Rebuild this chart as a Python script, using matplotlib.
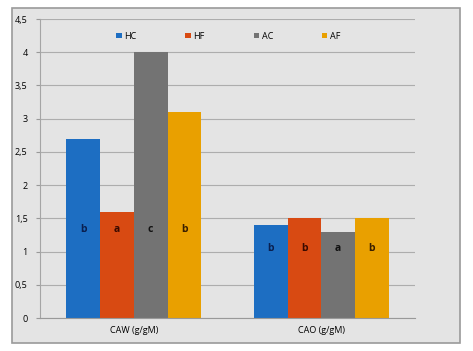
import matplotlib
matplotlib.use("Agg")
import matplotlib.pyplot as plt
import numpy as np
from matplotlib.patches import Rectangle

categories = ["CAW (g/gM)", "CAO (g/gM)"]
series = ["HC", "HF", "AC", "AF"]
HC = [2.7, 1.4]
HF = [1.6, 1.5]
AC = [4.0, 1.3]
AF = [3.1, 1.5]
letters_HC = ["b", "b"]
letters_HF = ["a", "b"]
letters_AC = ["c", "a"]
letters_AF = ["b", "b"]
letter_y = [1.33, 1.05]
yticks = [0, 0.5, 1, 1.5, 2, 2.5, 3, 3.5, 4, 4.5]
ytick_labels = ["0", "0,5", "1", "1,5", "2", "2,5", "3", "3,5", "4", "4,5"]

plt.rcParams["font.family"] = ["Open Sans", "DejaVu Sans"]
W, H = 473, 351
fig = plt.figure(figsize=(W / 100, H / 100), dpi=100, facecolor="white")
fig.patches.append(Rectangle((12 / W, 1 - 343 / H), 448 / W, 335 / H, transform=fig.transFigure,
                             facecolor="#e4e4e4", edgecolor="#9a9a9a", lw=1.2, zorder=-5))
ax = fig.add_axes([40 / W, 1 - 318 / H, 375 / W, 299 / H])
ax.set_facecolor("none")

colors = ["#1d6ec2", "#d84a12", "#737373", "#e9a000"]
lcolors = ["#0a2050", "#3a0a00", "#111111", "#3a2000"]
vals = [HC, HF, AC, AF]
lets = [letters_HC, letters_HF, letters_AC, letters_AF]
x = np.arange(len(categories))
w = 0.18
for i, (name, v, c) in enumerate(zip(series, vals, colors)):
    pos = x + (i - 1.5) * w
    ax.bar(pos, v, width=w, color=c, label=name, zorder=2)
    for p, t, ly in zip(pos, lets[i], letter_y):
        ax.text(p, ly, t, ha="center", va="center", fontsize=7.5, fontweight="bold",
                color=lcolors[i], zorder=3)

ax.set_xlim(-0.5, 1.5)
ax.set_ylim(0, 4.5)
ax.set_yticks(yticks)
ax.set_yticklabels(ytick_labels, fontsize=6.5)
ax.set_xticks(x)
ax.set_xticklabels(categories, fontsize=6.5)
ax.tick_params(axis="x", length=0, pad=6)
ax.tick_params(axis="y", length=3, color="#999999", pad=6)
ax.grid(axis="y", color="#adadad", lw=0.8, zorder=1)
for s in ["top", "right"]:
    ax.spines[s].set_visible(False)
ax.spines["left"].set_color("#a5a5a5")
ax.spines["bottom"].set_color("#999999")

ax.legend(loc="upper center", bbox_to_anchor=(0.502, 0.985), ncol=4, frameon=False, fontsize=6.5,
          handlelength=0.6, handleheight=0.6, handletextpad=0.3, columnspacing=5.4)

fig.savefig("out.png", dpi=100)
